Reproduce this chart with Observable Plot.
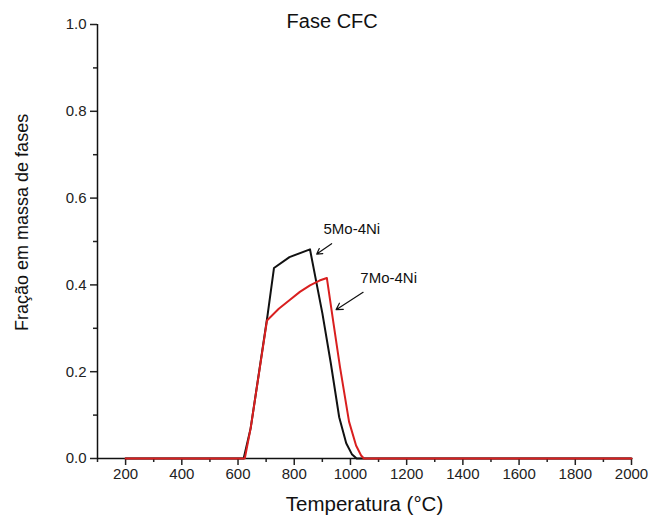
<!DOCTYPE html>
<html>
<head>
<meta charset="utf-8">
<script src="https://cdn.jsdelivr.net/npm/d3@7"></script>
<script src="https://cdn.jsdelivr.net/npm/@observablehq/plot@0.6"></script>
<style>
  html, body { margin: 0; padding: 0; background: #fff; }
</style>
</head>
<body>
<div id="chart"></div>
<script>
// ---- Data ----
const chartTitle = "Fase CFC";
const xTitle = "Temperatura (°C)";
const yTitle = "Fração em massa de fases";

// 5Mo-4Ni (black)
const temp5Mo = [200, 620, 645, 705, 728, 783, 856, 900, 930, 960, 985, 1005, 1022, 2000];
const frac5Mo = [0, 0, 0.07, 0.33, 0.439, 0.464, 0.482, 0.335, 0.22, 0.095, 0.035, 0.01, 0, 0];

// 7Mo-4Ni (red)
const temp7Mo = [200, 624, 645, 703, 745, 785, 820, 856, 890, 916, 940, 963, 995, 1020, 1038, 1048, 2000];
const frac7Mo = [0, 0, 0.07, 0.318, 0.345, 0.366, 0.384, 0.399, 0.41, 0.416, 0.31, 0.21, 0.085, 0.03, 0.007, 0, 0];

// Tick values
const xMajorTicks = [200, 400, 600, 800, 1000, 1200, 1400, 1600, 1800, 2000];
const xMinorTicks = [100, 300, 500, 700, 900, 1100, 1300, 1500, 1700, 1900];
const yMajorTicks = [0, 0.2, 0.4, 0.6, 0.8, 1.0];
const yMinorTicks = [0.1, 0.3, 0.5, 0.7, 0.9];

// Annotations
const seriesLabels = ["5Mo-4Ni", "7Mo-4Ni"];
const labelT = [1005, 1136];
const labelF = [0.529, 0.416];
const arrowT1 = [933, 1045];
const arrowF1 = [0.495, 0.383];
const arrowT2 = [880, 949];
const arrowF2 = [0.471, 0.343];
const titleT = 935;
const titleF = 1.0;
const yTitleF = 0.544;

// ---- Build tables ----
const black = temp5Mo.map((t, i) => ({t, f: frac5Mo[i]}));
const red = temp7Mo.map((t, i) => ({t, f: frac7Mo[i]}));
const labels = seriesLabels.map((s, i) => ({s, t: labelT[i], f: labelF[i]}));
const arrows = seriesLabels.map((s, i) => ({t1: arrowT1[i], f1: arrowF1[i], t2: arrowT2[i], f2: arrowF2[i]}));

const font = "'Liberation Sans', Arial, Helvetica, sans-serif";

const chart = Plot.plot({
  width: 651,
  height: 523,
  marginLeft: 97,
  marginRight: 20,
  marginTop: 24,
  marginBottom: 65,
  style: {fontFamily: font, background: "#fff", color: "#222"},
  x: {domain: [100, 2000]},
  y: {domain: [0, 1]},
  marks: [
    Plot.axisX({ticks: xMajorTicks, tickSize: 7, tickPadding: 3, fontSize: 15, tickFormat: d => String(d), label: null, strokeWidth: 1.5}),
    Plot.axisX({ticks: xMinorTicks, tickSize: 4, tickFormat: () => "", label: null, strokeWidth: 1.5}),
    Plot.axisY({ticks: yMajorTicks, tickSize: 7, tickPadding: 4, fontSize: 15, tickFormat: d3.format(".1f"), label: null, strokeWidth: 1.5}),
    Plot.axisY({ticks: yMinorTicks, tickSize: 4, tickFormat: () => "", label: null, strokeWidth: 1.5}),
    Plot.ruleY([0], {stroke: "#111", strokeWidth: 1.5}),
    Plot.ruleX([100], {stroke: "#111", strokeWidth: 1.5}),
    Plot.line(black, {x: "t", y: "f", stroke: "#111", strokeWidth: 2, curve: "linear"}),
    Plot.line(red, {x: "t", y: "f", stroke: "#d91f1f", strokeWidth: 2, curve: "linear"}),
    Plot.arrow(arrows, {x1: "t1", y1: "f1", x2: "t2", y2: "f2", stroke: "#111", strokeWidth: 1.2, headLength: 9}),
    Plot.text(labels, {x: "t", y: "f", text: "s", fontSize: 15, fill: "#111"}),
    Plot.text([chartTitle], {x: () => titleT, y: () => titleF, dy: -3, fontSize: 20, fill: "#111"}),
    Plot.text([xTitle], {frameAnchor: "bottom", dy: 52, fontSize: 20.5, fill: "#111"}),
    Plot.text([yTitle], {frameAnchor: "left", y: () => yTitleF, dx: -75, rotate: -90, textAnchor: "middle", fontSize: 18, fill: "#111"})
  ]
});
document.getElementById("chart").appendChild(chart);
</script>
</body>
</html>
